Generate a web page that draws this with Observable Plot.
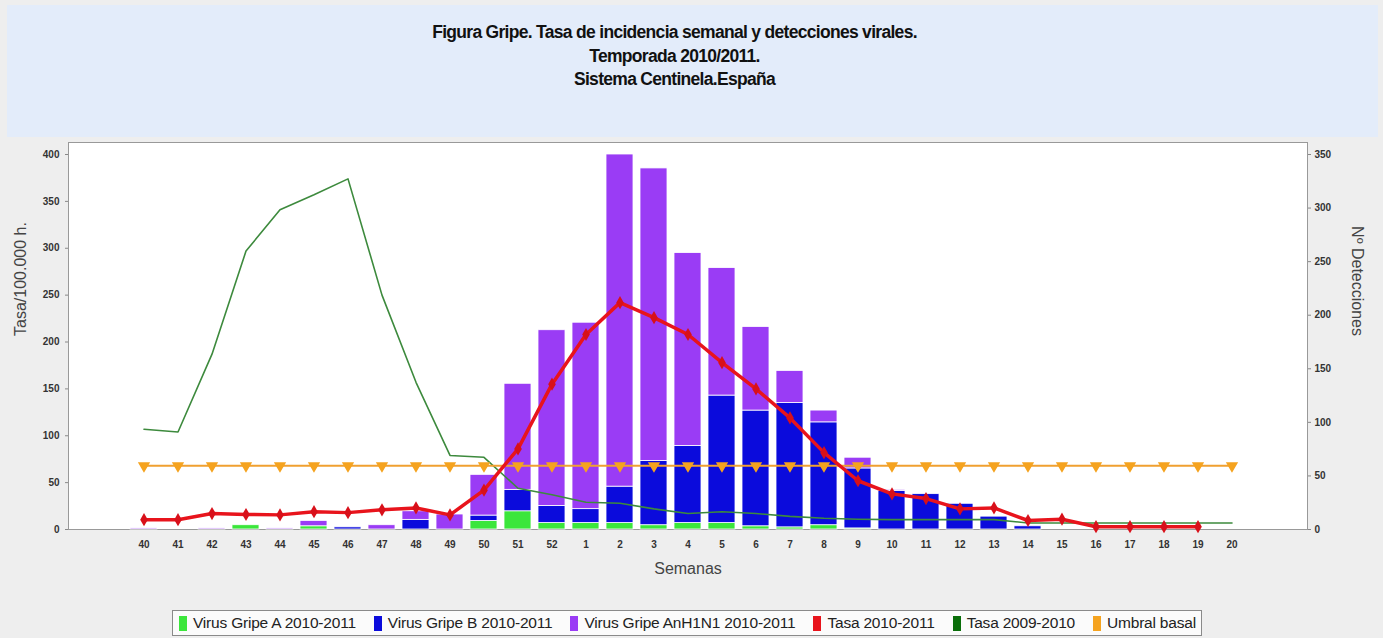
<!DOCTYPE html>
<html>
<head>
<meta charset="utf-8">
<script src="https://cdn.jsdelivr.net/npm/d3@7"></script>
<script src="https://cdn.jsdelivr.net/npm/@observablehq/plot@0.6"></script>
<style>
  html, body { margin:0; padding:0; }
  body { background:#eeeeee; width:1383px; height:638px; position:relative; overflow:hidden; font-family:"Liberation Sans", Arial, sans-serif; }
  #titlebox { position:absolute; left:7px; top:5px; width:1371px; height:132px; background:#e3ecfa; }
  #titletext { position:absolute; left:0; width:1335px; top:16px; text-align:center; font-weight:bold; font-size:17.5px; line-height:23.5px; letter-spacing:-0.7px; color:#111; }
  #chart { position:absolute; left:0; top:137px; }
  #legend { position:absolute; left:172px; top:610px; width:1030px; height:26px; border:1px solid #8a8a8a; background:#fbfbfb; display:flex; align-items:center; justify-content:space-between; font-size:15.5px; letter-spacing:-0.2px; color:#222; box-sizing:border-box; padding:0 5px 0 6px; }
  .item { display:flex; align-items:center; white-space:nowrap; }
  .sw { width:8px; height:15px; margin-right:6px; }
</style>
</head>
<body>
<div id="titlebox"><div id="titletext">Figura Gripe. Tasa de incidencia semanal y detecciones virales.<br>Temporada 2010/2011.<br>Sistema Centinela.España</div></div>
<div id="chart"></div>
<div id="legend"></div>
<script>
// ---- data ----
const weeks = ["40","41","42","43","44","45","46","47","48","49","50","51","52","1","2","3","4","5","6","7","8","9","10","11","12","13","14","15","16","17","18","19","20"];
const virusA    = [0,0,0,4,0,3,0,0,0,0,8,17,6,6,6,4,6,6,3,2,4,1,0,0,0,0,0,0,0,0,0,0,0];
const virusB    = [0,0,0,0,0,0,2,0,9,0,5,20,16,13,34,60,72,119,108,116,96,56,36,33,24,12,3,0,0,0,0,0,0];
const virusH1N1 = [1,0,1,0,1,5,0,4,8,14,38,99,164,174,310,273,180,119,78,30,11,10,1,0,0,0,0,0,0,0,0,0,0];
const tasa1011  = [10.5,10.5,17,16,15.6,19,18,21,23,15.6,42,86,155,208,242,226,208,178,150,119,82,52,38,33,22,23,9.6,11,3,3,3,3,null];
const tasa0910  = [107,104,187,297,341,357,374,250,157,79,77,44,37,29,28,22,17,19,17,14,12,11,10.5,10.5,10.5,10.5,7,7,7,7,7,7,7];
const umbral    = [68,68,68,68,68,68,68,68,68,68,68,68,68,68,68,68,68,68,68,68,68,68,68,68,68,68,68,68,68,68,68,68,68];
const leftTicks  = [0,50,100,150,200,250,300,350,400];
const rightTicks = [0,50,100,150,200,250,300,350];
const seriesNames = ["Virus Gripe A 2010-2011","Virus Gripe B 2010-2011","Virus Gripe AnH1N1 2010-2011"];
const seriesColors = ["#3be63b","#0b0bdc","#9a3cf5"];
const legendNames = ["Virus Gripe A 2010-2011","Virus Gripe B 2010-2011","Virus Gripe AnH1N1 2010-2011","Tasa 2010-2011","Tasa 2009-2010","Umbral basal"];
const legendColors = ["#3be63b","#0b0bdc","#9a3cf5","#e8141c","#0a6e0a","#f5a31f"];

// right axis (detections) mapped onto left axis units
const k = 400/350;

const barRows = [];
[virusA, virusB, virusH1N1].forEach((arr, s) => {
  arr.forEach((v, i) => { if (v > 0) barRows.push({week: weeks[i], series: seriesNames[s], det: v}); });
});
const line1011 = weeks.map((w,i)=>({week:w, v:tasa1011[i]})).filter(d=>d.v!=null);
const line0910 = weeks.map((w,i)=>({week:w, v:tasa0910[i]}));
const lineUmb  = weeks.map((w,i)=>({week:w, v:umbral[i]}));

const chart = Plot.plot({
  width: 1383,
  height: 463,
  marginTop: 5,
  marginBottom: 71,
  marginLeft: 68,
  marginRight: 76,
  style: {background:"transparent", fontFamily:"'Liberation Sans', Arial, sans-serif", fontSize:"10px", fontWeight:"bold", color:"#333", overflow:"visible"},
  x: {type:"band", domain: weeks, range:[126,1248], paddingInner:0.22, paddingOuter:0.11, label:null},
  y: {domain:[0, 400*387/375], label:null},
  color: {domain: seriesNames, range: seriesColors},
  marks: [
    Plot.frame({fill:"white", stroke:"#999"}),
    Plot.barY(barRows, {x:"week", y: d => d.det*k, fill:"series", order: seriesNames, stroke:"white", strokeWidth:0.8}),
    Plot.line(line0910, {x:"week", y:"v", stroke:"#3d8a3d", strokeWidth:1.6}),
    Plot.line(lineUmb, {x:"week", y:"v", stroke:"#f0a030", strokeWidth:1.8}),
    Plot.dot(lineUmb, {x:"week", y:"v", symbol:"triangle", rotate:180, r:3.6, fill:"#f5a31f", stroke:"#f5a31f"}),
    Plot.line(line1011, {x:"week", y:"v", stroke:"#e8141c", strokeWidth:3.5}),
    Plot.dot(line1011, {x:"week", y:"v", symbol:"diamond", r:4, fill:"#d8101a"}),
    Plot.axisX({tickSize:0, tickPadding:11, label:null, fill:"#333"}),
    Plot.axisY(leftTicks, {anchor:"left", tickSize:3, tickPadding:6, label:null, fill:"#333", stroke:"#888"}),
    Plot.axisY(rightTicks.map(t=>t*k), {anchor:"right", tickSize:3, tickPadding:4, label:null, tickFormat: d => Math.round(d/k), fill:"#333", stroke:"#888"}),
    Plot.text(["Tasa/100.000 h."], {text:d=>d, frameAnchor:"left", dx:-48, rotate:-90, fontSize:16, fontWeight:"normal", fill:"#444"}),
    Plot.text(["Nº Detecciones"], {text:d=>d, frameAnchor:"right", dx:50, rotate:90, fontSize:16, fontWeight:"normal", fill:"#444"}),
    Plot.text(["Semanas"], {text:d=>d, frameAnchor:"bottom", dy:44, fontSize:16, fontWeight:"normal", fill:"#444"})
  ]
});
document.getElementById("chart").appendChild(chart);

const lg = document.getElementById("legend");
legendNames.forEach((n,i)=>{
  const it = document.createElement("div"); it.className="item";
  const sw = document.createElement("div"); sw.className="sw"; sw.style.background = legendColors[i];
  const t = document.createElement("span"); t.textContent = n;
  it.appendChild(sw); it.appendChild(t); lg.appendChild(it);
});
</script>
</body>
</html>
